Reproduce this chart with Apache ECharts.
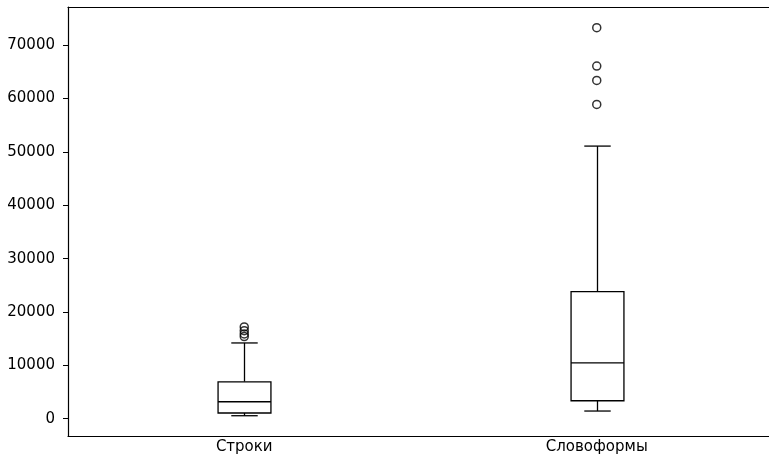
<!DOCTYPE html>
<html>
<head>
<meta charset="utf-8">
<script src="https://cdn.jsdelivr.net/npm/echarts@6/dist/echarts.min.js"></script>
<style>html,body{margin:0;padding:0;background:#fff}#c{width:769px;height:462px}</style>
</head>
<body>
<div id="c"></div>
<script>
const categories = ['Строки', 'Словоформы'];
const whiskerLow = [560, 1440];
const q1 = [1070, 3370];
const median = [3180, 10480];
const q3 = [6920, 23830];
const whiskerHigh = [14200, 51100];
const outliersStroki = [15400, 15900, 16500, 17200];
const outliersSlovoformy = [58900, 63400, 66100, 73300];
const yTicks = [0, 10000, 20000, 30000, 40000, 50000, 60000, 70000];

const boxData = categories.map((c, i) => [i, whiskerLow[i], q1[i], median[i], q3[i], whiskerHigh[i]]);
const outlierData = []
  .concat(outliersStroki.map(v => [0, v]))
  .concat(outliersSlovoformy.map(v => [1, v]));

const chart = echarts.init(document.getElementById('c'), null, {renderer: 'canvas'});
const font = 'DejaVu Sans';
chart.setOption({
  animation: false,
  backgroundColor: '#fff',
  grid: {left: 68, top: 7, width: 705, bottom: 26, show: false, outerBoundsMode: 'none', containLabel: false},
  xAxis: [{
    type: 'category', data: categories, boundaryGap: true,
    axisLine: {onZero: false, lineStyle: {color: '#000', width: 1.2}},
    axisTick: {alignWithLabel: true, length: 4, lineStyle: {color: '#000'}},
    axisLabel: {color: '#000', fontFamily: font, fontSize: 15, margin: 4},
    splitLine: {show: false}
  }, {
    type: 'category', data: categories, position: 'top', boundaryGap: true,
    axisLine: {onZero: false, lineStyle: {color: '#000', width: 1.2}},
    axisTick: {show: false}, axisLabel: {show: false}, splitLine: {show: false}
  }],
  yAxis: {
    type: 'value', min: -3240, max: 77170,
    axisLine: {show: true, onZero: false, lineStyle: {color: '#000', width: 1.2}},
    axisTick: {show: true, length: 5, customValues: yTicks, lineStyle: {color: '#000'}},
    axisLabel: {color: '#000', fontFamily: font, fontSize: 15, margin: 13, customValues: yTicks,
      formatter: v => String(v)},
    splitLine: {show: false}
  },
  series: [
    {
      type: 'custom',
      data: boxData,
      encode: {x: 0, y: [1, 2, 3, 4, 5]},
      renderItem: function (params, api) {
        const idx = api.value(0);
        const band = api.size([1, 0])[0];
        const boxW = band * 0.15;
        const capW = boxW / 2;
        const pLow = api.coord([idx, api.value(1)]);
        const pQ1 = api.coord([idx, api.value(2)]);
        const pMed = api.coord([idx, api.value(3)]);
        const pQ3 = api.coord([idx, api.value(4)]);
        const pHigh = api.coord([idx, api.value(5)]);
        const cx = Math.round(pMed[0]) + 0.5;
        const st = {stroke: '#000', lineWidth: 1.3, fill: null};
        const x0 = cx - boxW / 2, x1 = cx + boxW / 2;
        return {
          type: 'group',
          children: [
            {type: 'line', shape: {x1: cx, y1: pQ1[1], x2: cx, y2: pLow[1]}, style: st},
            {type: 'line', shape: {x1: cx, y1: pQ3[1], x2: cx, y2: pHigh[1]}, style: st},
            {type: 'line', shape: {x1: cx - capW / 2, y1: pLow[1], x2: cx + capW / 2, y2: pLow[1]}, style: st},
            {type: 'line', shape: {x1: cx - capW / 2, y1: pHigh[1], x2: cx + capW / 2, y2: pHigh[1]}, style: st},
            {type: 'rect', shape: {x: x0, y: pQ3[1], width: boxW, height: pQ1[1] - pQ3[1]}, style: {stroke: '#000', lineWidth: 1.3, fill: '#fff'}},
            {type: 'line', shape: {x1: x0, y1: pMed[1], x2: x1, y2: pMed[1]}, style: st}
          ]
        };
      }
    },
    {
      type: 'scatter',
      data: outlierData,
      symbol: 'circle',
      symbolSize: 8,
      itemStyle: {color: 'rgba(0,0,0,0)', borderColor: '#000', borderWidth: 1.5}
    }
  ]
});
</script>
</body>
</html>
